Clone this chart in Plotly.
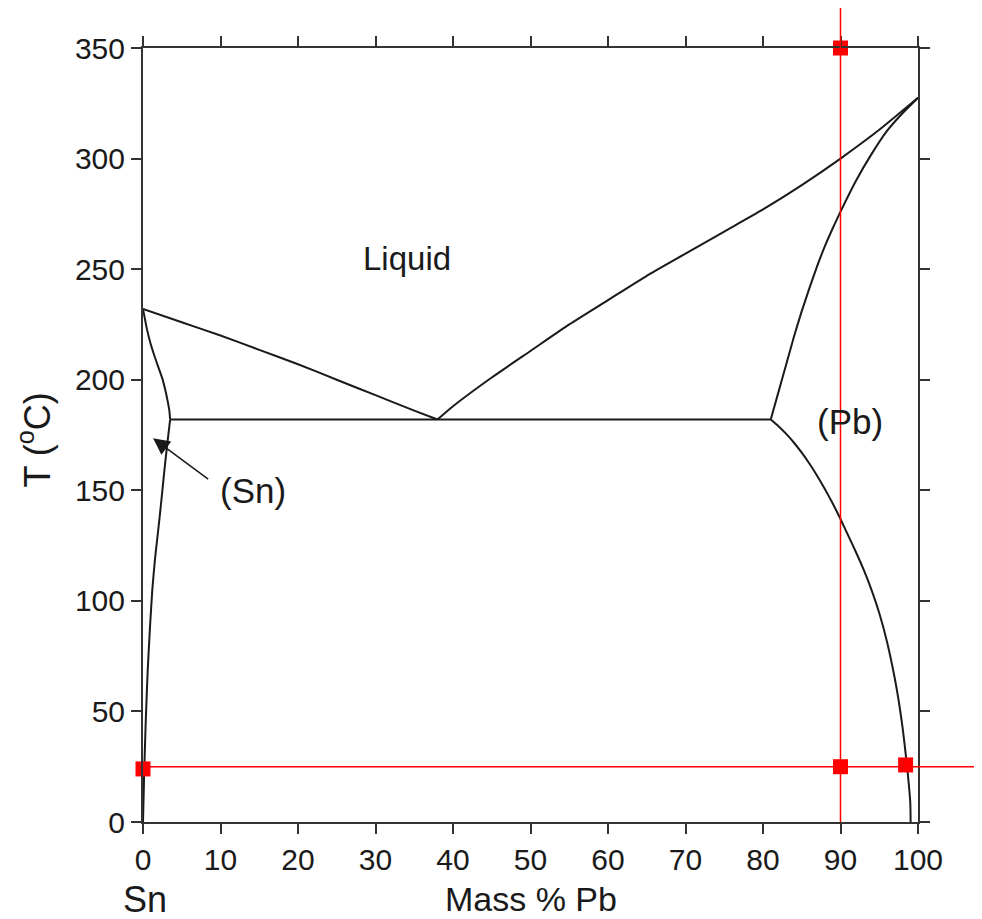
import plotly.graph_objects as go

# ---- data (mass % Pb, temperature in degC) ----
liq_left_x = [0, 5, 10, 15, 20, 25, 30, 35, 38]
liq_left_t = [232, 226, 220, 213.5, 207, 200, 193, 186, 182]

liq_right_x = [38, 40, 45, 50, 55, 60, 65, 70, 75, 80, 85, 90, 95, 100]
liq_right_t = [182, 188, 201, 213, 225, 236, 247, 257, 267, 277, 288, 300, 313, 327.5]

pb_solidus_x = [81, 82, 83, 84, 85, 86, 87, 88, 89, 90, 92, 94, 96, 98, 100]
pb_solidus_t = [182, 194.5, 207, 219.5, 231, 241.5, 251.5, 260.5, 268.5, 276, 290, 302, 312.5, 320.5, 327.5]

pb_solvus_x = [81, 82, 83, 84, 85, 86, 87, 88, 89, 90, 91, 92, 93, 94, 95, 96, 97, 97.5, 98, 98.5, 99, 99.05]
pb_solvus_t = [182, 179, 175.5, 171.5, 167, 162, 156.5, 150.5, 144, 137, 129.5, 122, 114, 105, 94.5, 81.5,
               65, 55, 43, 28, 9, 0]

sn_solidus_x = [0, 0.5, 1.0, 1.5, 2.0, 2.5, 2.9, 3.2, 3.4, 3.5]
sn_solidus_t = [232, 223, 216, 210.5, 205.5, 200.5, 195, 190, 186, 182]

sn_solvus_x = [3.5, 3.1, 2.7, 2.3, 1.9, 1.55, 1.2, 0.9, 0.6, 0.35, 0.15, 0]
sn_solvus_t = [182, 170, 157, 143, 130, 119, 105, 88, 68, 45, 22, 0]

eutectic_x = [3.5, 81]
eutectic_t = [182, 182]

# red construction lines and points
comp_line = 90
temp_line = 25
red_pts_x = [0, 90, 90, 98.4]
red_pts_t = [24, 350, 25, 25.8]

x_ticks = [0, 10, 20, 30, 40, 50, 60, 70, 80, 90, 100]
y_ticks = [0, 50, 100, 150, 200, 250, 300, 350]

FONT = "Liberation Sans, Arial, sans-serif"
INK = "#1a1a1a"
black_line = dict(color=INK, width=2)

fig = go.Figure()
for xs, ts in [(liq_left_x, liq_left_t), (liq_right_x, liq_right_t),
               (pb_solidus_x, pb_solidus_t), (pb_solvus_x, pb_solvus_t),
               (sn_solidus_x, sn_solidus_t), (sn_solvus_x, sn_solvus_t),
               (eutectic_x, eutectic_t)]:
    fig.add_trace(go.Scatter(x=xs, y=ts, mode="lines",
                             line=dict(black_line, shape="spline", smoothing=0.5),
                             showlegend=False, hoverinfo="skip"))

fig.add_shape(type="line", xref="x", yref="paper", x0=comp_line, x1=comp_line, y0=0, y1=1.052,
              line=dict(color="#ff0000", width=1.5))
fig.add_shape(type="line", xref="paper", yref="y", x0=0, x1=1.083, y0=temp_line, y1=temp_line,
              line=dict(color="#ff0000", width=1.5))

fig.add_trace(go.Scatter(x=red_pts_x, y=red_pts_t, mode="markers",
                         marker=dict(symbol="square", size=15, color="#ff0000"),
                         cliponaxis=False, showlegend=False))

fig.add_annotation(x=34, y=255, text="Liquid", showarrow=False, font=dict(size=33, family=FONT, color=INK))
fig.add_annotation(x=91.2, y=181, text="(Pb)", showarrow=False, font=dict(size=35, family=FONT, color=INK))
fig.add_annotation(x=1.3, y=173.5, ax=8.6, ay=154.5, axref="x", ayref="y", text="", showarrow=True,
                   arrowhead=2, arrowsize=2.2, arrowwidth=1.5, arrowcolor=INK, standoff=0)
fig.add_annotation(x=14.2, y=150, text="(Sn)", showarrow=False, font=dict(size=35, family=FONT, color=INK))

fig.add_annotation(x=0.5, y=-0.100, xref="paper", yref="paper", text="Mass % Pb", showarrow=False,
                   font=dict(size=34, family=FONT, color=INK), yanchor="middle")
fig.add_annotation(x=0.25, y=-0.100, xref="x", yref="paper", text="Sn", showarrow=False,
                   font=dict(size=36, family=FONT, color=INK), yanchor="middle")
fig.add_annotation(x=100.2, y=-0.100, xref="x", yref="paper", text="Pb", showarrow=False,
                   font=dict(size=36, family=FONT, color=INK), yanchor="middle")
fig.add_annotation(x=-0.14, y=0.4935, xref="paper", yref="paper", text="T (<sup>o</sup>C)", showarrow=False,
                   textangle=-90, font=dict(size=36, family=FONT, color=INK),
                   xanchor="center", yanchor="middle")

axis_common = dict(showgrid=False, zeroline=False, showline=True, linecolor="#333333", linewidth=2,
                   ticks="outside", ticklen=10, tickwidth=2, tickcolor="#333333", mirror="allticks",
                   tickfont=dict(size=30, family=FONT, color=INK))

# the page body adds an 8 px margin, so the figure is sized to fit within the 982x919 window
fig.update_layout(
    width=974, height=911,
    margin=dict(l=135, r=64, t=40, b=97, autoexpand=False),
    plot_bgcolor="white", paper_bgcolor="white",
    xaxis=dict(axis_common, range=[0, 100], tickvals=x_ticks, ticktext=[str(v) for v in x_ticks]),
    yaxis=dict(axis_common, range=[0, 350], tickvals=y_ticks, ticktext=[str(v) for v in y_ticks]),
)

fig.write_html("out.html")
